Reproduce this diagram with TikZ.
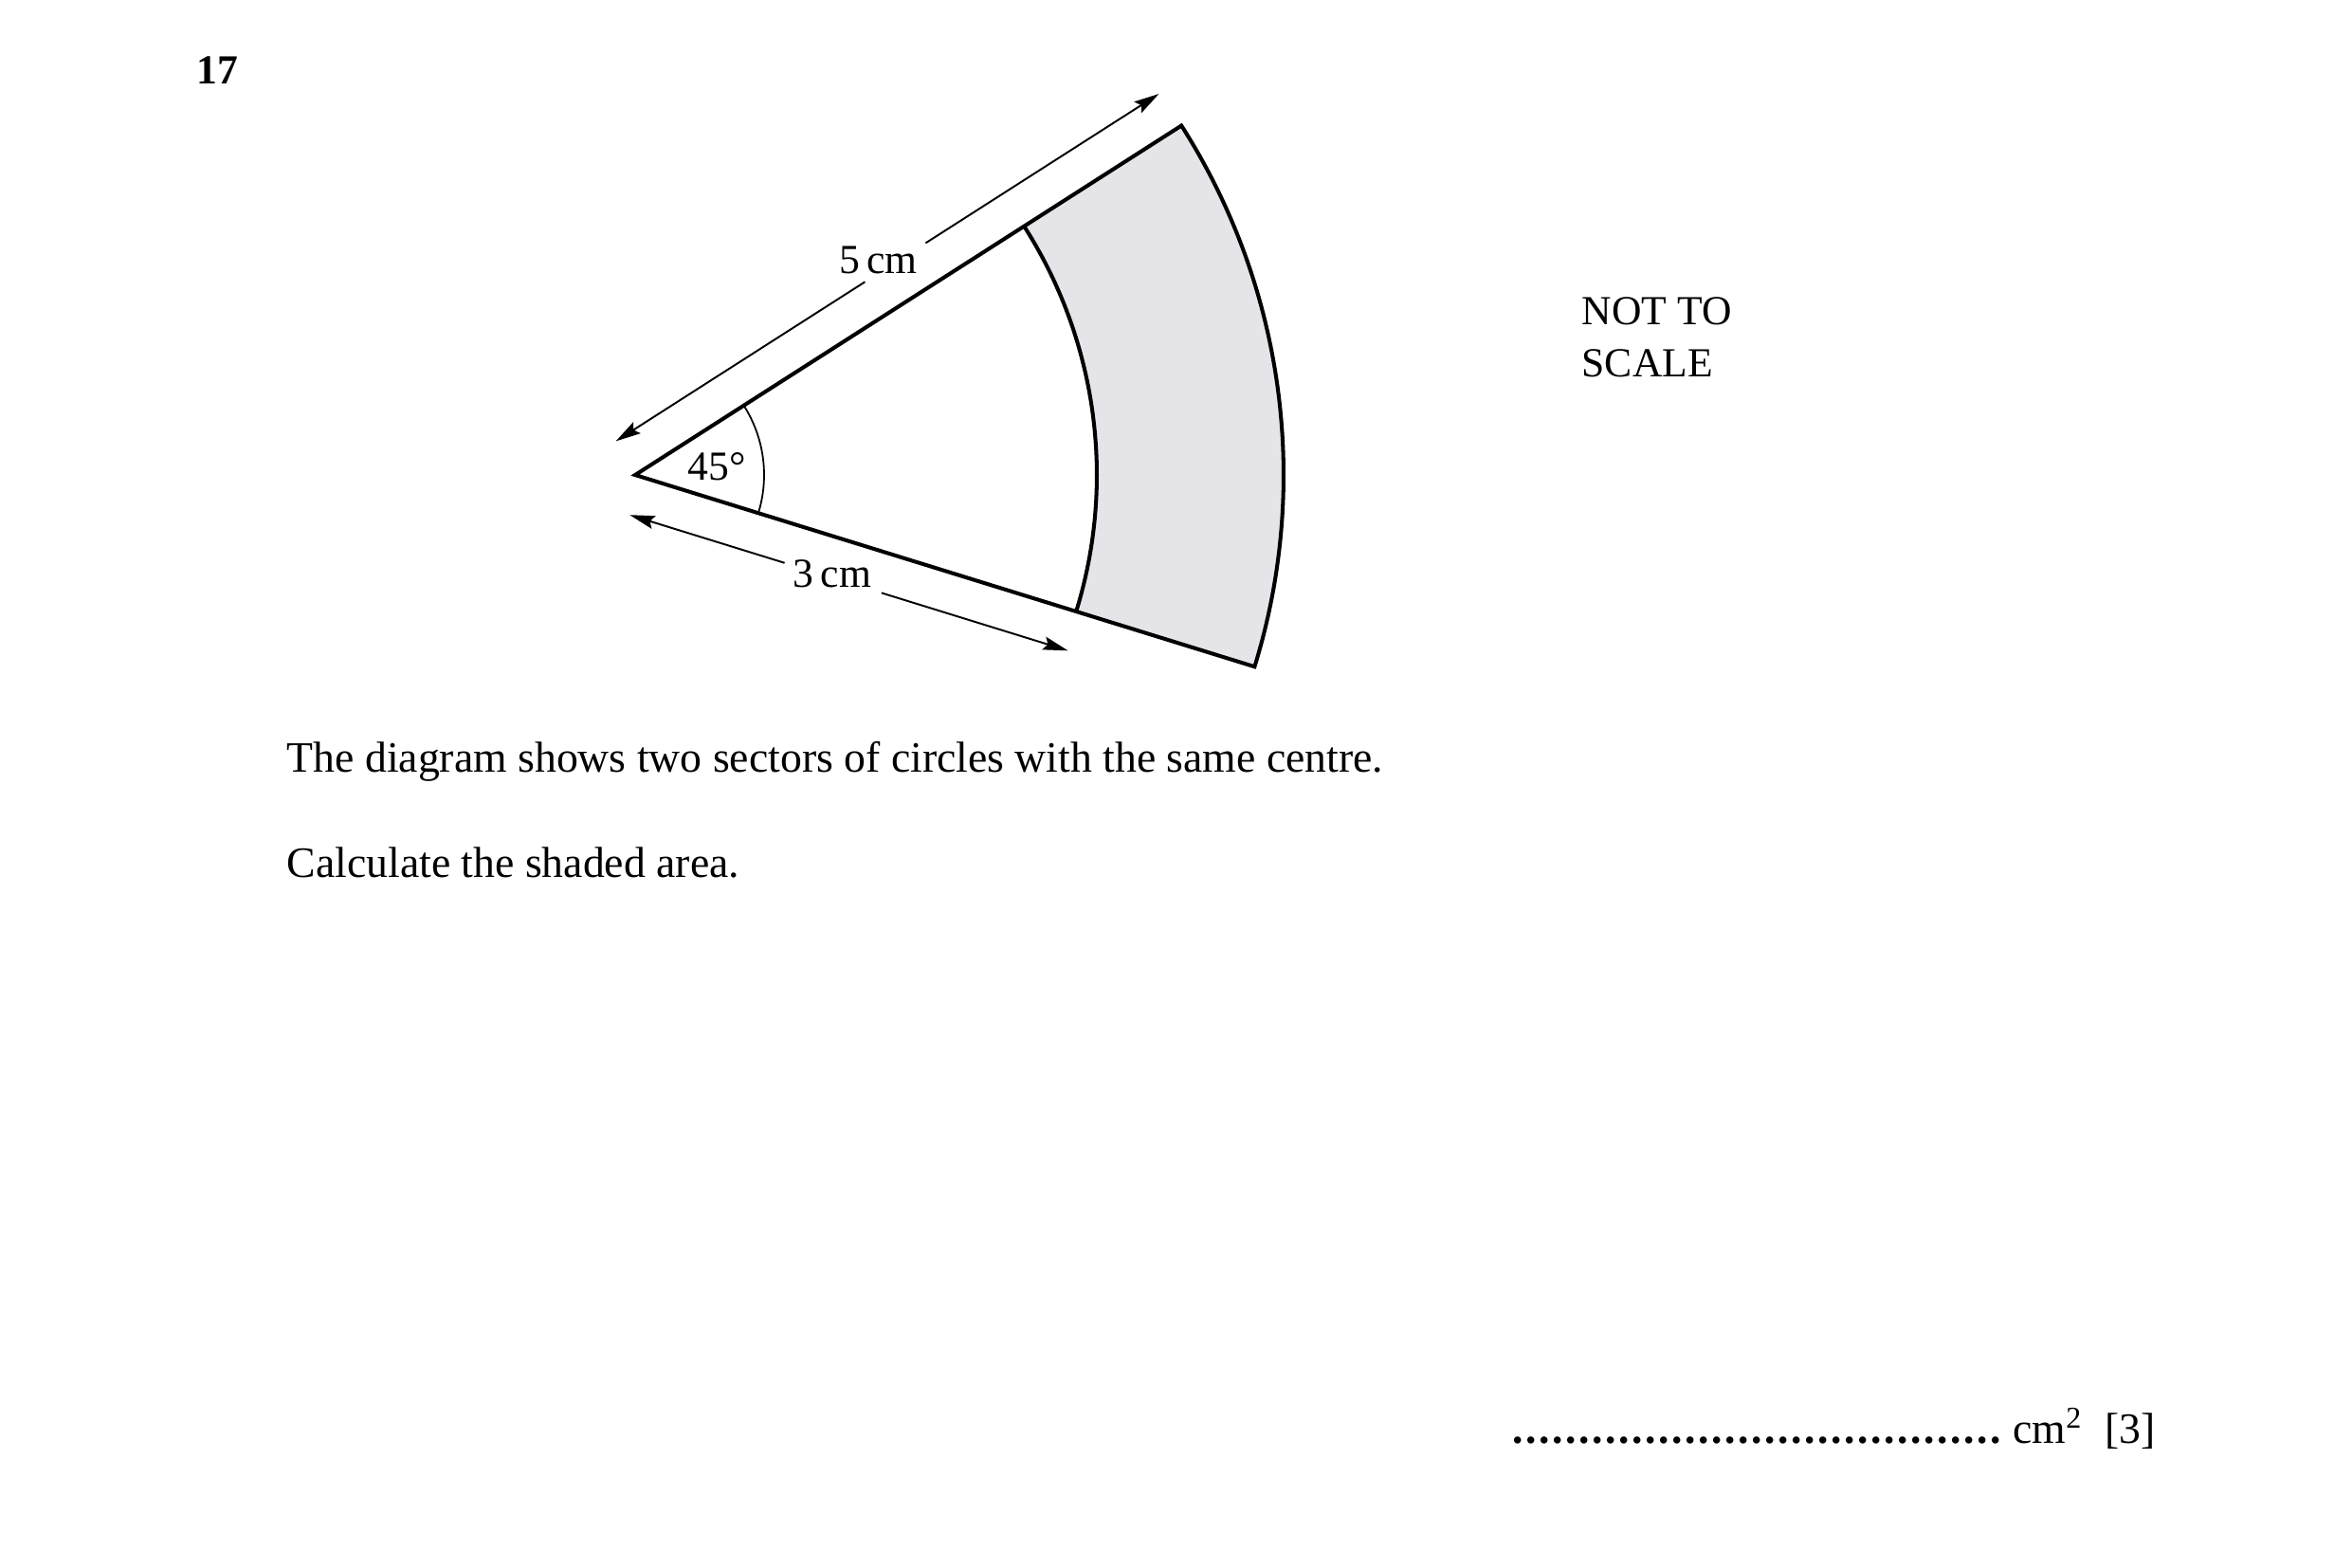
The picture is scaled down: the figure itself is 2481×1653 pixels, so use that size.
\documentclass[tikz,border=0pt]{standalone}
\usepackage{fontspec}
\setmainfont{Liberation Serif}
\usepackage{xcolor}
\usepackage{tikz}
\usetikzlibrary{
    arrows.meta,
    positioning,
}

\definecolor{ringgray}{RGB}{229,229,233}

\begin{document}
\begin{tikzpicture}[
        x=0.01cm, y=0.01cm,
        >={Stealth[length=7.5pt, width=4pt, inset=1.2pt]},
        edge/.style={line width=1.15pt, line join=miter},
        thinarc/.style={line width=0.5pt},
        dimline/.style={line width=0.55pt},
        dimlabel/.style={inner sep=0pt, font=\fontsize{12.4}{15}\selectfont},
        textline/.style={anchor=base west, inner sep=0pt, font=\fontsize{12.4}{15}\selectfont},
        bodyline/.style={anchor=base west, inner sep=0pt, font=\fontsize{13}{16}\selectfont},
    ]

    \useasboundingbox (0,0) rectangle (2481,-1653);

    % ── Question number ──
    \node[textline, font=\fontsize{12.4}{15}\selectfont\bfseries] (qnum) at (207,-88) {17};

    % ── Sectors ──
    \coordinate (O) at (670,-501);
    \begin{scope}[shift={(O)}]
        \coordinate (outA) at (32.6:684);
        \coordinate (outB) at (-17.2:684);
        \coordinate (inA) at (32.6:487);
        \coordinate (inB) at (-17.2:487);
        \coordinate (angB) at (-17.2:136);
    \end{scope}

    \fill[ringgray] (inA) arc[start angle=32.6, end angle=-17.2, radius=487]
        -- (outB) arc[start angle=-17.2, end angle=32.6, radius=684] -- cycle;
    \draw[edge] (O) -- (outB) arc[start angle=-17.2, end angle=32.6, radius=684] -- cycle;
    \draw[edge] (inB) arc[start angle=-17.2, end angle=32.6, radius=487];
    \draw[thinarc] (angB) arc[start angle=-17.2, end angle=32.6, radius=136];

    \node[dimlabel] (ang) at (756,-492) {45°};

    % ── Dimension: 5 cm ──
    \begin{scope}[shift={(O)}, rotate=32.6]
        \coordinate (d5s) at (2,41);
        \coordinate (d5a) at (314,41);
        \coordinate (d5b) at (390,41);
        \coordinate (d5e) at (682,41);
        \node[dimlabel] (len5) at (338,53) {5\,cm};
    \end{scope}
    \draw[dimline, ->] (d5a) -- (d5s);
    \draw[dimline, ->] (d5b) -- (d5e);

    % ── Dimension: 3 cm ──
    \begin{scope}[shift={(O)}, rotate=-17.2]
        \coordinate (d3s) at (7,-42);
        \coordinate (d3a) at (178,-42);
        \coordinate (d3b) at (285,-42);
        \coordinate (d3e) at (491,-42);
        \node[dimlabel] (len3) at (229.5,-38) {3\,cm};
    \end{scope}
    \draw[dimline, ->] (d3a) -- (d3s);
    \draw[dimline, ->] (d3b) -- (d3e);

    % ── Note ──
    \node[textline] (nts1) at (1668,-342) {NOT TO};
    \node[textline] (nts2) at (1668,-397) {SCALE};

    % ── Question text ──
    \node[bodyline] (stem) at (302,-814) {The diagram shows two sectors of circles with the same centre.};
    \node[bodyline] (task) at (302,-925) {Calculate the shaded area.};

    % ── Answer line ──
    \node[anchor=base east, inner sep=0pt, font=\fontsize{13}{16}\selectfont] (answer) at (2274,-1522)
        {\hbox to 5.18cm{\leaders\hbox to 0.14cm{\hss\textbf{.}\hss}\hfill}\ cm\textsuperscript{2}\enspace[3]};

\end{tikzpicture}
\end{document}
